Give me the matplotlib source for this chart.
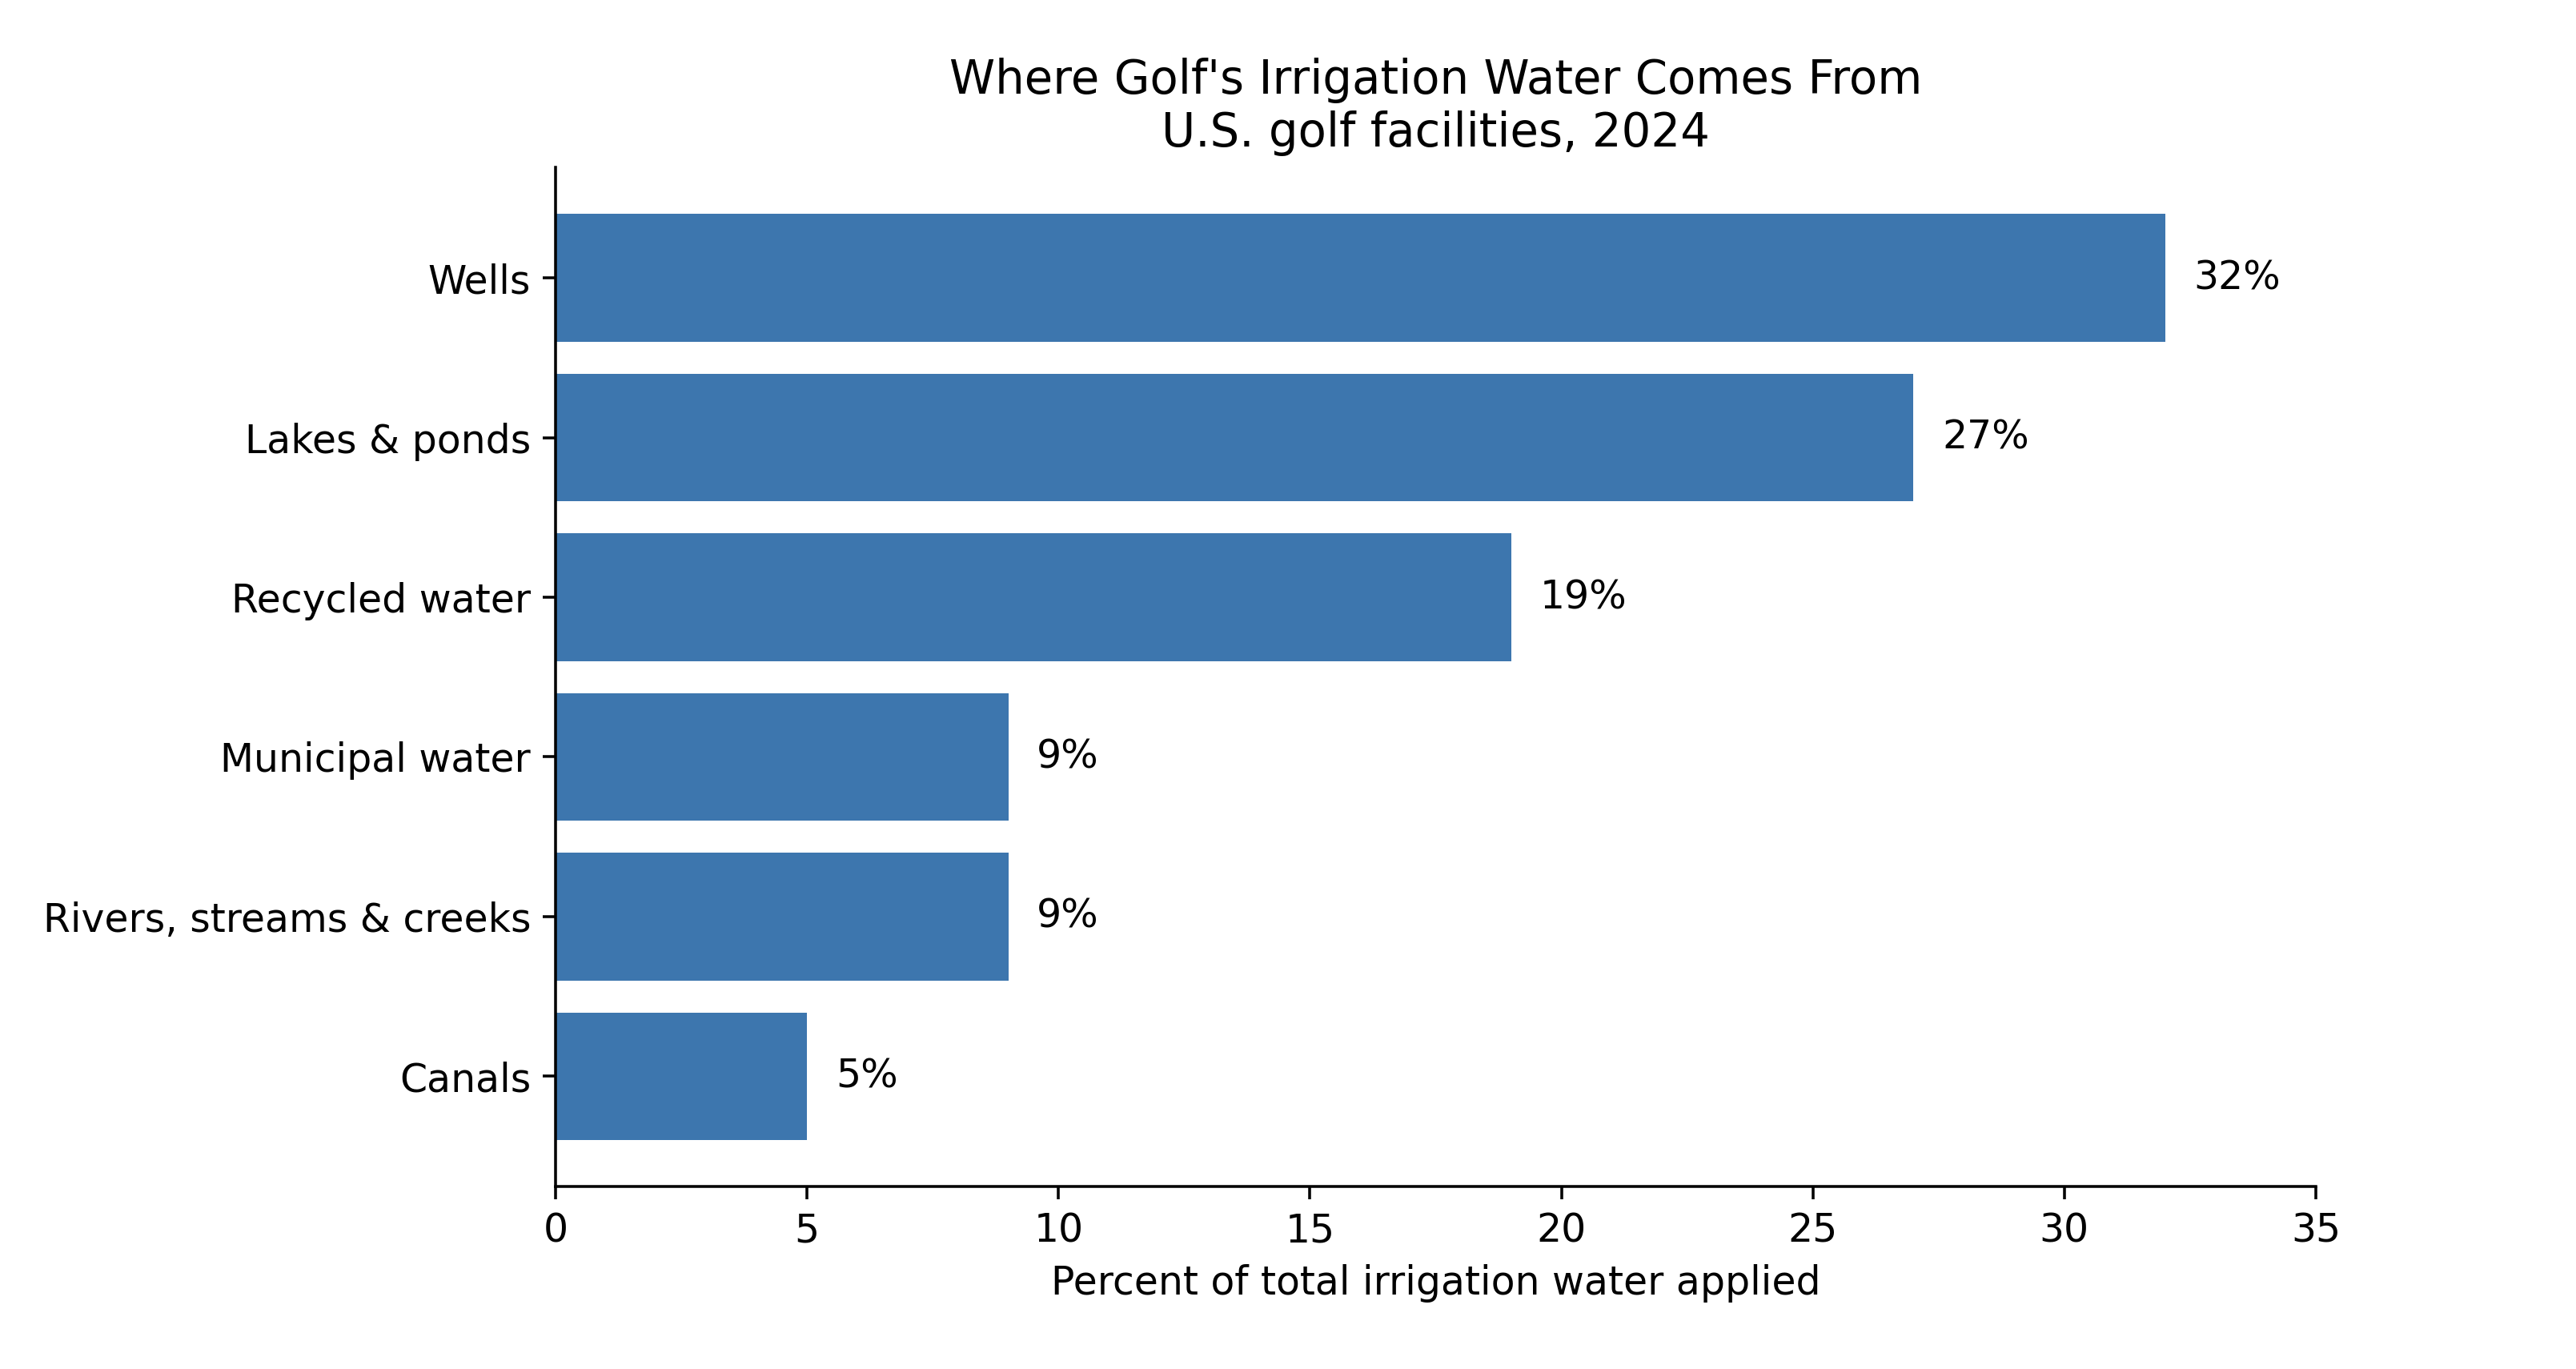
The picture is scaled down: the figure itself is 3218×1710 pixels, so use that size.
import matplotlib
matplotlib.use("Agg")
import matplotlib.pyplot as plt

categories = ["Wells", "Lakes & ponds", "Recycled water", "Municipal water",
              "Rivers, streams & creeks", "Canals"]
values = [32, 27, 19, 9, 9, 5]
xticks = [0, 5, 10, 15, 20, 25, 30, 35]

fig = plt.figure(figsize=(3218 / 320, 1710 / 320), dpi=320)
ax = fig.add_axes([0.2157, 0.1333, 0.899 - 0.2157, 0.8775 - 0.1333])

ypos = list(range(len(categories)))
bars = ax.barh(ypos, values, height=0.8, color="#3d76ae")
ax.set_yticks(ypos)
ax.set_yticklabels(categories, fontsize=11)
ax.invert_yaxis()
ax.set_xlim(0, 35)
ax.set_xticks(xticks)
ax.tick_params(axis="x", labelsize=11)
ax.bar_label(bars, labels=[f"{v}%" for v in values], padding=8, fontsize=11)
ax.set_xlabel("Percent of total irrigation water applied", fontsize=11)
ax.set_title("Where Golf's Irrigation Water Comes From\nU.S. golf facilities, 2024",
             fontsize=13)
ax.spines["top"].set_visible(False)
ax.spines["right"].set_visible(False)

fig.savefig("out.png", dpi=320)
